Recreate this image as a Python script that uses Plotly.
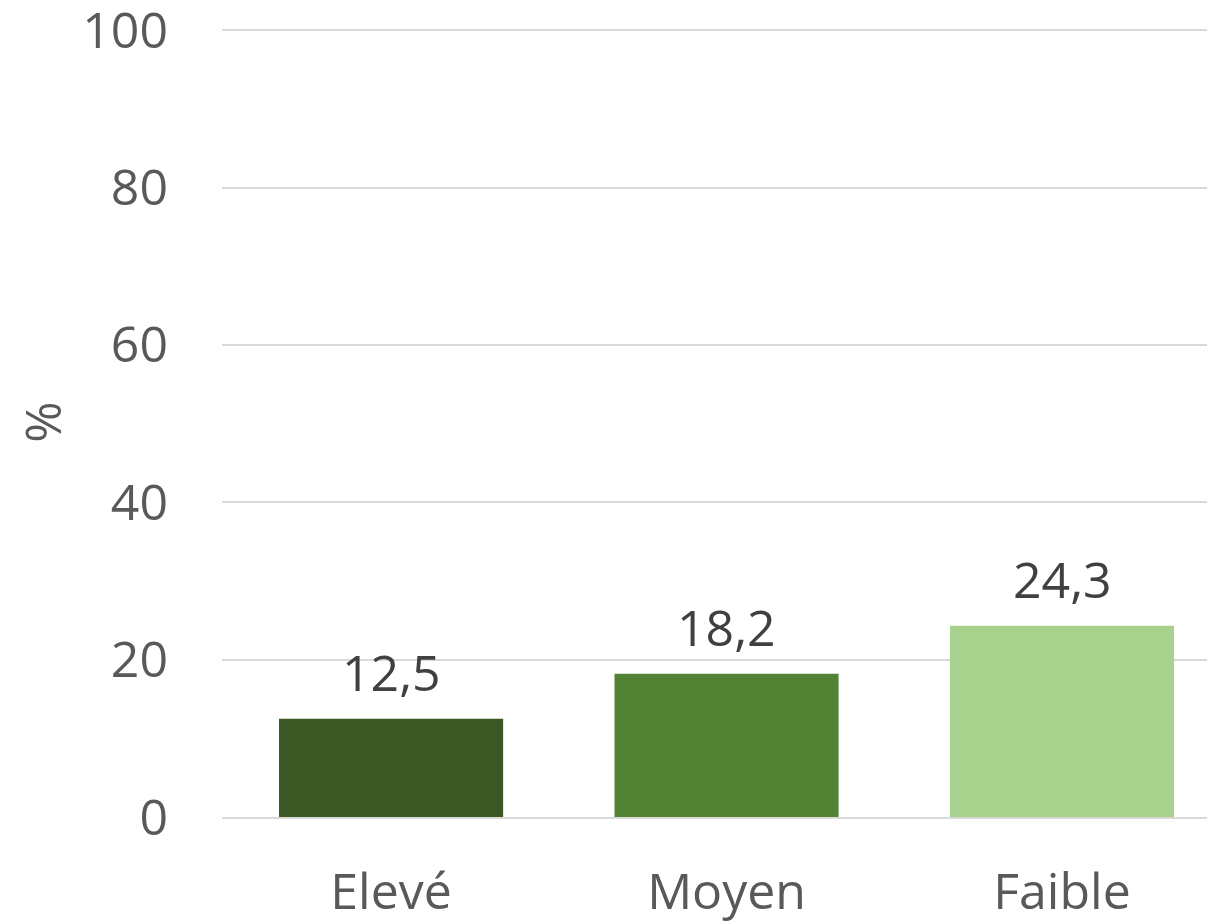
import plotly.graph_objects as go

categories = ["Elevé", "Moyen", "Faible"]
values = [12.5, 18.2, 24.3]
bar_colors = ["#3A5724", "#548235", "#A9D18E"]
y_ticks = [0, 20, 40, 60, 80, 100]

FONT = "Open Sans"
fig = go.Figure()
fig.add_trace(go.Bar(
    x=categories, y=values, marker=dict(color=bar_colors, line=dict(width=0)),
    width=0.668, showlegend=False, hoverinfo="skip",
))

for c, v in zip(categories, values):
    fig.add_annotation(
        x=c, y=v, text=f"{v:.1f}".replace(".", ","), showarrow=False,
        yanchor="bottom", yshift=11,
        font=dict(family=FONT, size=50, color="#404040"),
    )

# page body has an 8px default margin: compensate
fig.update_layout(
    width=1207, height=914,
    margin=dict(l=214, r=0, t=19, b=105),
    paper_bgcolor="white", plot_bgcolor="white",
    font=dict(family=FONT, size=50, color="#595959"),
)
fig.update_yaxes(
    range=[0, 100.4], tickvals=y_ticks, showgrid=True, gridcolor="#D9D9D9", gridwidth=2,
    zeroline=False, showline=False, ticklabelstandoff=53, automargin=False,
    ticklabeloverflow="allow",
    title=dict(text="%", standoff=50, font=dict(family=FONT, size=50, color="#595959")),
    tickfont=dict(family=FONT, size=50, color="#595959"),
)
fig.update_xaxes(
    range=[-0.504, 2.456],
    showline=True, linecolor="#D9D9D9", linewidth=2, showgrid=False,
    ticklabelstandoff=30, automargin=False, ticklabeloverflow="allow",
    tickfont=dict(family=FONT, size=50, color="#595959"),
)

fig.write_html("out.html")
